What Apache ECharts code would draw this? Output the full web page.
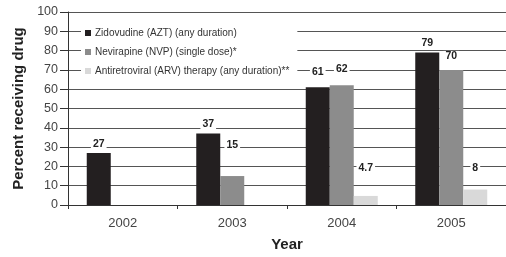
<!DOCTYPE html>
<html>
<head>
<meta charset="utf-8">
<script src="https://cdn.jsdelivr.net/npm/echarts@6/dist/echarts.min.js"></script>
<style>
  html, body { margin: 0; padding: 0; background: #fff; }
  #chart { width: 506px; height: 257px; }
</style>
</head>
<body>
<div id="chart"></div>
<script>
// ---- data ----
const years = ["2002", "2003", "2004", "2005"];
const azt = [27, 37, 61, 79];
const nvp = [null, 15, 62, 70];
const arv = [null, null, 4.7, 8];
const seriesNames = [
  "Zidovudine (AZT) (any duration)",
  "Nevirapine (NVP) (single dose)*",
  "Antiretroviral (ARV) therapy (any duration)**",
];

// label lift above each bar (style only)
const liftAzt = [3, 4, 10, 4];
const liftNvp = [0, 25, 11, 8];
const liftArv = [0, 0, 22, 16];

const chart = echarts.init(document.getElementById("chart"));

function barSeries(name, values, lift, color) {
  return {
    name: name,
    type: "bar",
    barWidth: 24,
    barGap: "0%",
    itemStyle: { color: color },
    data: values.map((v, i) => ({
      value: v,
      label: { distance: lift[i] },
    })),
    label: {
      show: true,
      position: "top",
      color: "#222",
      fontSize: 10.5,
      fontWeight: "bold",
      fontFamily: "Liberation Sans",
      backgroundColor: "#fff",
      padding: [0, 2],
    },
  };
}

chart.setOption({
  animation: false,
  backgroundColor: "#fff",
  textStyle: { fontFamily: "Liberation Sans" },
  grid: { left: 68, top: 12, width: 445, height: 197 },
  legend: {
    orient: "vertical",
    left: 81,
    top: 25,
    padding: [2, 8, 2, 4],
    itemGap: 7,
    itemWidth: 6,
    itemHeight: 6,
    icon: "rect",
    backgroundColor: "#fff",
    textStyle: { fontSize: 10, color: "#333", padding: [0, 0, 0, -1], height: 12, lineHeight: 12 },
    data: seriesNames,
  },
  xAxis: {
    type: "category",
    data: years,
    name: "Year",
    nameLocation: "middle",
    nameGap: 32,
    nameTextStyle: { fontSize: 15, fontWeight: "bold", color: "#222" },
    axisLine: { lineStyle: { color: "#333", width: 1 } },
    axisTick: { show: true, length: 4, lineStyle: { color: "#333" } },
    axisLabel: { fontSize: 13, color: "#444", margin: 12 },
  },
  yAxis: {
    type: "value",
    min: 0,
    max: 100,
    interval: 10,
    name: "Percent receiving drug",
    nameLocation: "middle",
    nameGap: 41,
    nameTextStyle: { fontSize: 15, fontWeight: "bold", color: "#222" },
    axisLine: { show: true, lineStyle: { color: "#333", width: 1 } },
    axisTick: { show: true, length: 8, lineStyle: { color: "#333" } },
    axisLabel: { fontSize: 12.5, color: "#444", margin: 10 },
    splitLine: { lineStyle: { color: "#555", width: 1 } },
  },
  series: [
    barSeries(seriesNames[0], azt, liftAzt, "#231f20"),
    barSeries(seriesNames[1], nvp, liftNvp, "#8c8c8c"),
    barSeries(seriesNames[2], arv, liftArv, "#d9d9d9"),
  ],
});
</script>
</body>
</html>
